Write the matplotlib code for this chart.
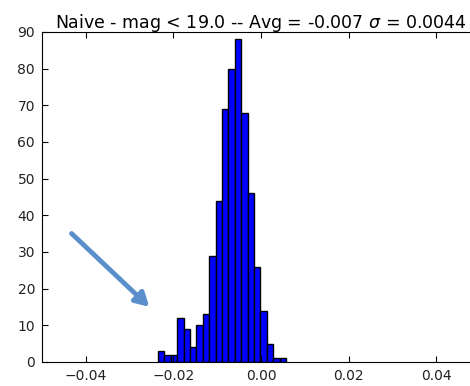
import numpy as np
import matplotlib
matplotlib.use("Agg")
import matplotlib.pyplot as plt

# histogram of residuals
bin_lo = -0.0235
bin_hi = 0.0057
counts = [3, 2, 2, 12, 9, 4, 10, 13, 29, 44, 69, 80, 88, 68, 46, 26, 14, 5, 1, 1]
title = r"Naive - mag < 19.0 -- Avg = -0.007 $\sigma$ = 0.0044"
xticks = [-0.04, -0.02, 0.00, 0.02, 0.04]
yticks = [0, 10, 20, 30, 40, 50, 60, 70, 80, 90]

edges = np.linspace(bin_lo, bin_hi, len(counts) + 1)
centers = 0.5 * (edges[:-1] + edges[1:])

fig = plt.figure(figsize=(4.7, 3.86), dpi=100)
ax = fig.add_axes([0.0894, 0.0622, 0.932, 0.855])
ax.hist(centers, bins=edges, weights=counts, facecolor="b", edgecolor="black", linewidth=1.0)

ax.set_xlim(-0.05, 0.05)
ax.set_ylim(0, 90)
ax.set_xticks(xticks)
ax.set_xticklabels(["%.2f" % t if t >= 0 else "\u2212%.2f" % abs(t) for t in xticks])
ax.set_yticks(yticks)
ax.tick_params(direction="in", top=True, right=True, labelsize=10, length=4, pad=5,
               labelcolor="#222222")
ax.set_title(title, fontsize=12.5, pad=3)

# arrow pointing at the small secondary bump
ax.annotate("", xy=(0.322, 0.2), xytext=(0.148, 0.40), xycoords="figure fraction",
            textcoords="figure fraction",
            arrowprops=dict(arrowstyle="-|>,head_length=0.8,head_width=0.45",
                            color="#5b8fcb", lw=3.5))

fig.savefig("out.png", dpi=100, facecolor="white")
